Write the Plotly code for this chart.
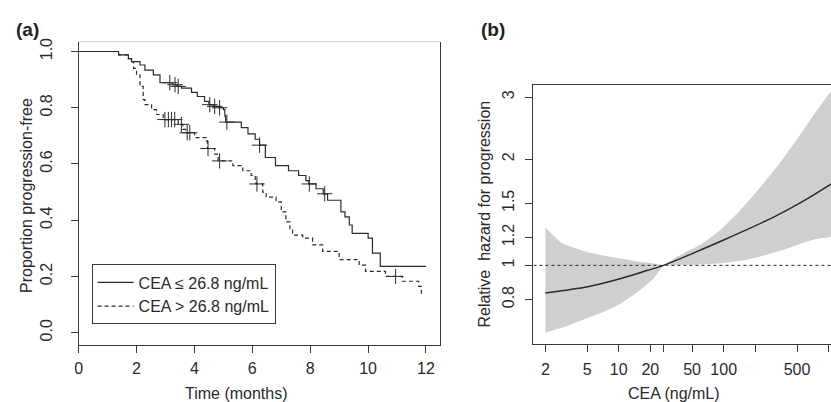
import math
import plotly.graph_objects as go

W, H = 831, 402

# ---------------- Panel (a): Kaplan-Meier data ----------------
solid_t = [0, 1.38, 1.72, 1.83, 2.12, 2.29, 2.58, 2.81, 3.25, 3.4, 3.55, 3.9, 4.1, 4.35, 4.5, 4.65,
           4.85, 5.0, 5.05, 5.08, 5.62, 5.85, 6.1, 6.25, 6.45, 6.8, 7.25, 7.6, 7.85, 7.95, 8.2, 8.45,
           8.6, 9.06, 9.2, 9.35, 9.45, 10.0, 10.15, 10.42, 12.0]
solid_s = [1.0, 0.988, 0.975, 0.964, 0.952, 0.934, 0.917, 0.889, 0.882, 0.876, 0.87, 0.855, 0.84,
           0.823, 0.811, 0.805, 0.80, 0.793, 0.77, 0.749, 0.729, 0.707, 0.688, 0.667, 0.623, 0.594,
           0.576, 0.559, 0.541, 0.529, 0.512, 0.494, 0.471, 0.43, 0.412, 0.383, 0.353, 0.336, 0.283,
           0.236, 0.236]
solid_cens = [3.15, 3.33, 3.44, 4.53, 4.7, 4.87, 5.12, 6.25, 7.97, 8.5]

dash_t = [0, 1.38, 1.72, 1.83, 1.9, 2.0, 2.12, 2.23, 2.29, 2.52, 2.69, 2.92, 3.44, 3.6, 3.7, 4.01,
          4.41, 4.45, 4.7, 4.82, 5.33, 5.67, 5.96, 6.1, 6.13, 6.36, 6.48, 6.82, 7.0, 7.16, 7.3, 7.39,
          7.74, 8.08, 8.43, 9.0, 9.69, 9.91, 10.6, 11.18, 11.75, 11.84]
dash_s = [1.0, 0.988, 0.975, 0.964, 0.94, 0.917, 0.876, 0.829, 0.811, 0.793, 0.776, 0.758, 0.741,
          0.723, 0.711, 0.694, 0.682, 0.655, 0.635, 0.611, 0.594, 0.576, 0.559, 0.541, 0.529, 0.5,
          0.482, 0.465, 0.43, 0.394, 0.37, 0.347, 0.336, 0.312, 0.289, 0.26, 0.24, 0.218, 0.2,
          0.183, 0.165, 0.13]
dash_cens = [2.98, 3.1, 3.21, 3.32, 3.55, 3.75, 3.84, 4.47, 4.87, 6.16, 10.95]

km_xticks = [0, 2, 4, 6, 8, 10, 12]
km_yticks = [0.0, 0.2, 0.4, 0.6, 0.8, 1.0]
km_ylabels = ["0.0", "0.2", "0.4", "0.6", "0.8", "1.0"]
legend_names = ["CEA \u2264 26.8 ng/mL", "CEA > 26.8 ng/mL"]

# ---------------- Panel (b): relative hazard spline ----------------
band_cea = [2, 2.84, 3.53, 5.08, 7.3, 10.5, 15.1, 21.6, 26.8, 33.4, 60.3, 93.4, 144.4, 223.4,
            345.8, 535, 743, 1053]
band_upper = [1.28, 1.16, 1.13, 1.09, 1.065, 1.045, 1.025, 1.012, 1.0, 1.046, 1.145, 1.262, 1.436,
              1.666, 1.958, 2.347, 2.705, 3.12]
band_lower = [0.644, 0.665, 0.68, 0.71, 0.74, 0.78, 0.84, 0.92, 1.0, 1.003, 1.006, 1.014, 1.03,
              1.06, 1.10, 1.15, 1.185, 1.206]
fit_cea = [2, 5.08, 10.5, 18.8, 26.8, 52, 100, 299, 556, 1053]
fit_hr = [0.835, 0.87, 0.918, 0.968, 1.0, 1.085, 1.18, 1.37, 1.513, 1.70]

hr_xticks = [2, 5, 10, 20, 26.8, 50, 100, 200, 500, 1000]
hr_xlabels = ["2", "5", "10", "20", "", "50", "100", "", "500", ""]
hr_yticks = [0.8, 1, 1.2, 1.5, 2, 3]
hr_ylabels = ["0.8", "1", "1.2", "1.5", "2", "3"]

# ---------------- style ----------------
FONT = "Liberation Sans, Arial, sans-serif"
INK = "#2a2a2a"
AX = "#3a3a3a"


def step_value(ts, ss, t):
    v = ss[0]
    for ti, si in zip(ts, ss):
        if ti <= t:
            v = si
    return v


fig = go.Figure()

# KM curves
fig.add_trace(go.Scatter(x=solid_t, y=solid_s, mode="lines", line=dict(color=INK, width=1.2, shape="hv"),
                         name=legend_names[0], xaxis="x", yaxis="y"))
fig.add_trace(go.Scatter(x=dash_t, y=dash_s, mode="lines",
                         line=dict(color=INK, width=1.2, shape="hv", dash="4px,3px"),
                         name=legend_names[1], xaxis="x", yaxis="y"))
fig.add_trace(go.Scatter(x=solid_cens, y=[step_value(solid_t, solid_s, t) for t in solid_cens],
                         mode="markers", showlegend=False, xaxis="x", yaxis="y",
                         marker=dict(symbol="cross-thin", size=11, line=dict(width=1, color=INK))))
fig.add_trace(go.Scatter(x=dash_cens, y=[step_value(dash_t, dash_s, t) for t in dash_cens],
                         mode="markers", showlegend=False, xaxis="x", yaxis="y",
                         marker=dict(symbol="cross-thin", size=11, line=dict(width=1, color=INK))))

# Hazard band
fig.add_trace(go.Scatter(x=band_cea, y=band_lower, mode="lines",
                         line=dict(width=0, color="#cfcfcf", shape="spline", smoothing=0.6),
                         showlegend=False, xaxis="x2", yaxis="y2", hoverinfo="skip"))
fig.add_trace(go.Scatter(x=band_cea, y=band_upper, mode="lines",
                         line=dict(width=0, color="#cfcfcf", shape="spline", smoothing=0.6),
                         fill="tonexty", fillcolor="#cfcfcf", showlegend=False, xaxis="x2", yaxis="y2",
                         hoverinfo="skip"))
x2lo, x2hi = 1.539, 1053
fig.add_trace(go.Scatter(x=[x2lo, x2hi], y=[1, 1], mode="lines",
                         line=dict(color=INK, width=1, dash="dot"), showlegend=False,
                         xaxis="x2", yaxis="y2"))
fig.add_trace(go.Scatter(x=fit_cea, y=fit_hr, mode="lines",
                         line=dict(color=INK, width=1.5, shape="spline", smoothing=0.8),
                         showlegend=False, xaxis="x2", yaxis="y2"))

tickfont = dict(family=FONT, size=16, color=INK)
common = dict(ticks="outside", ticklen=7, tickcolor=AX, tickwidth=1, showgrid=False, zeroline=False,
              showline=True, linecolor=AX, linewidth=1, tickfont=tickfont)

fig.update_layout(
    width=W, height=H, margin=dict(l=0, r=0, t=0, b=0),
    paper_bgcolor="white", plot_bgcolor="white",
    font=dict(family=FONT, size=16, color=INK),
    xaxis=dict(domain=[75 / W, 438 / W], range=[0, 12.48], tickmode="array", tickvals=km_xticks,
               anchor="y", ticklabelstandoff=2, **common),
    yaxis=dict(domain=[(H - 344) / H, (H - 38) / H], range=[-0.0423, 1.0352], tickmode="array",
               tickvals=km_yticks, ticktext=km_ylabels, tickangle=-90, mirror=True, anchor="x",
               ticklabelstandoff=12, **common),
    xaxis2=dict(domain=[532 / W, 1.0], type="log", range=[math.log10(x2lo), math.log10(x2hi)],
                tickmode="array", tickvals=hr_xticks, ticktext=hr_xlabels, mirror=True, anchor="y2",
                ticklabelstandoff=4, **common),
    yaxis2=dict(domain=[(H - 343) / H, (H - 81.7) / H], type="log",
                range=[math.log10(0.600), math.log10(3.249)], tickmode="array", tickvals=hr_yticks,
                ticktext=hr_ylabels, tickangle=-90, anchor="x2", ticklabelstandoff=5, **common),
    legend=dict(x=88 / W, y=(H - 263) / H, xanchor="left", yanchor="top", bgcolor="white",
                bordercolor=AX, borderwidth=1, font=dict(family=FONT, size=16, color=INK),
                itemwidth=36, tracegroupgap=0, traceorder="normal"),
    showlegend=True,
)

# Faint top border of panel (a)
fig.add_shape(type="line", xref="paper", yref="paper", x0=75 / W, x1=438 / W, y0=(H - 38) / H,
              y1=(H - 38) / H, line=dict(color="#cccccc", width=1))

ann = [
    dict(text="<b>(a)</b>", x=10 / W, y=(H - 26) / H, xanchor="left", yanchor="middle",
         font=dict(size=19, family=FONT, color="#222")),
    dict(text="<b>(b)</b>", x=477 / W, y=(H - 26) / H, xanchor="left", yanchor="middle",
         font=dict(size=19, family=FONT, color="#222")),
    dict(text="Proportion progression-free", x=22 / W, y=(H - 193) / H, textangle=-90,
         xanchor="center", yanchor="middle"),
    dict(text="Time (months)", x=234 / W, y=(H - 393) / H, xanchor="center", yanchor="middle"),
    dict(text="Relative  hazard for progression", x=483 / W, y=(H - 212) / H, textangle=-90,
         xanchor="center", yanchor="middle"),
    dict(text="CEA (ng/mL)", x=673 / W, y=(H - 393) / H, xanchor="center", yanchor="middle"),
]
for a in ann:
    a.update(xref="paper", yref="paper", showarrow=False)
    if "font" not in a:
        a["font"] = dict(size=16, family=FONT, color=INK)
    fig.add_annotation(**a)

fig.write_html("out.html")
